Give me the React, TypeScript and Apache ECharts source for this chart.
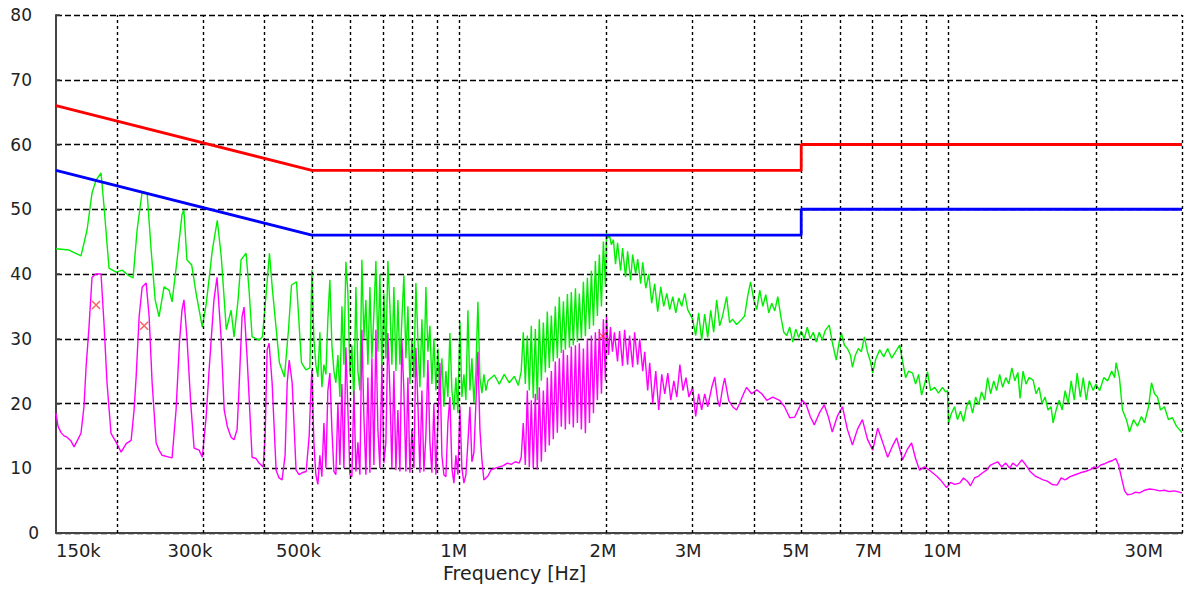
import React, { useEffect, useRef } from "react";
import * as echarts from "echarts";

// ---------- data ----------
const FREQ_GRID = [0.2, 0.3, 0.4, 0.5, 0.6, 0.7, 0.8, 0.9, 1, 2, 3, 4, 5, 6, 7, 8, 9, 10, 20, 30];
const X_LABEL_FREQS = [0.15, 0.3, 0.5, 1, 2, 3, 5, 7, 10, 30];
const X_LABELS = ["150k", "300k", "500k", "1M", "2M", "3M", "5M", "7M", "10M", "30M"];
const Y_TICKS = [0, 10, 20, 30, 40, 50, 60, 70, 80];
const X_TITLE = "Frequency [Hz]";

const QP_LIMIT = [[0.15, 66], [0.5, 56], [5, 56], [5, 60], [30, 60]];
const AV_LIMIT = [[0.15, 56], [0.5, 46], [5, 46], [5, 50], [30, 50]];
const MARKERS = [[0.1811, 35.2], [0.2271, 32.0], [1.963, 30.4]];

const PEAK = [
  [0.150, 43.9], [0.1595, 43.7], [0.1687, 42.8], [0.1736, 46.8], [0.1777, 52.5], [0.1811, 54.5], [0.1854, 55.6], [0.1880, 50.5],
  [0.1925, 40.9], [0.1991, 40.3], [0.2048, 40.6], [0.2116, 39.7], [0.2156, 39.4], [0.2197, 46.8], [0.2250, 52.7], [0.2303, 52.5],
  [0.2347, 43.7], [0.2392, 36.0], [0.2436, 33.4], [0.2494, 38.0], [0.2554, 37.5], [0.2590, 35.7], [0.2652, 42.2], [0.2713, 49.1],
  [0.2738, 49.9], [0.2777, 42.2], [0.2840, 41.4], [0.2903, 36.8], [0.2986, 31.8], [0.3043, 35.5], [0.3130, 43.7], [0.3204, 48.3],
  [0.3265, 42.6], [0.3343, 31.4], [0.3419, 34.4], [0.3467, 30.3], [0.3533, 36.0], [0.3583, 42.2], [0.3669, 43.2], [0.3721, 37.5],
  [0.3774, 30.3], [0.3907, 29.8], [0.3962, 30.3], [0.4038, 37.5], [0.4095, 43.2], [0.4154, 37.5], [0.4292, 26.3], [0.4395, 24.1],
  [0.4479, 31.4], [0.4543, 38.3], [0.4651, 38.8], [0.4761, 26.3], [0.4861, 25.2], [0.4953, 25.5],
  [0.5000, 40.6], [0.5047, 30.0], [0.5095, 26.0], [0.5143, 24.1], [0.5192, 31.0], [0.5241, 22.5], [0.5291, 26.0], [0.5341, 24.5],
  [0.5391, 33.0], [0.5442, 39.1], [0.5494, 29.0], [0.5546, 25.0], [0.5598, 23.2], [0.5651, 27.5], [0.5705, 21.0], [0.5759, 35.0],
  [0.5813, 26.0], [0.5868, 41.9], [0.5924, 37.0], [0.5980, 24.5], [0.6036, 29.0], [0.6093, 20.0], [0.6151, 38.0], [0.6209, 25.0],
  [0.6268, 22.0], [0.6327, 42.2], [0.6387, 30.0], [0.6447, 36.0], [0.6508, 26.0], [0.6570, 38.0], [0.6632, 27.0], [0.6695, 34.0],
  [0.6758, 42.0], [0.6822, 28.0], [0.6886, 40.0], [0.6951, 25.0], [0.7017, 37.0], [0.7083, 27.0], [0.7150, 42.0], [0.7218, 35.0],
  [0.7286, 26.0], [0.7355, 38.0], [0.7425, 25.0], [0.7495, 36.0], [0.7566, 26.0], [0.7637, 33.0], [0.7709, 39.8], [0.7782, 27.0],
  [0.7856, 35.0], [0.7930, 23.0], [0.8005, 30.0], [0.8081, 24.0], [0.8157, 38.6], [0.8234, 30.0], [0.8312, 22.5], [0.8391, 33.0],
  [0.8470, 24.0], [0.8550, 38.0], [0.8631, 28.0], [0.8713, 32.0], [0.8795, 23.0], [0.8878, 30.0], [0.8962, 22.0], [0.9047, 28.5],
  [0.9133, 20.5], [0.9219, 27.0], [0.9306, 19.5], [0.9394, 25.0], [0.9483, 21.0], [0.9573, 30.9], [0.9663, 22.0], [0.9755, 19.0],
  [0.9847, 24.0], [0.9940, 18.5], [1.0034, 32.6], [1.0129, 21.0], [1.0225, 24.5], [1.0322, 20.5], [1.0419, 34.4], [1.0518, 22.0],
  [1.0617, 27.0], [1.0718, 20.0], [1.0819, 25.0], [1.0921, 35.7], [1.1025, 24.0], [1.1129, 21.6], [1.1234, 24.5], [1.1340, 22.0],
  [1.1448, 23.5], [1.180, 24.4], [1.208, 23.0], [1.236, 24.5], [1.266, 23.2], [1.296, 24.2], [1.321, 22.8], [1.339, 25.0],
  [1.352, 31.0], [1.365, 23.0], [1.378, 30.5], [1.391, 22.0], [1.404, 32.0], [1.417, 20.8], [1.431, 31.5], [1.444, 20.5],
  [1.458, 33.0], [1.472, 23.5], [1.486, 32.5], [1.500, 24.8], [1.514, 34.2], [1.528, 25.5], [1.543, 33.6], [1.557, 26.5],
  [1.572, 35.0], [1.587, 27.0], [1.602, 36.5], [1.617, 27.8], [1.633, 35.8], [1.648, 28.3], [1.664, 36.9], [1.680, 28.6],
  [1.695, 37.2], [1.711, 29.0], [1.728, 37.8], [1.744, 29.5], [1.760, 37.0], [1.777, 30.0], [1.794, 38.8], [1.811, 30.4],
  [1.828, 39.4], [1.846, 31.5], [1.863, 40.5], [1.881, 32.0], [1.898, 42.0], [1.916, 33.5], [1.934, 43.0], [1.953, 35.0],
  [1.971, 45.0], [1.990, 38.0], [2.000, 46.3],
  [2.009, 45.5], [2.028, 46.0], [2.047, 44.5], [2.066, 45.3], [2.087, 41.5], [2.107, 44.8], [2.137, 40.5], [2.157, 44.0],
  [2.188, 39.5], [2.209, 43.5], [2.240, 39.0], [2.262, 43.0], [2.294, 40.0], [2.316, 42.3], [2.349, 38.5], [2.372, 41.8],
  [2.406, 37.8], [2.440, 40.0], [2.474, 35.5], [2.509, 38.5], [2.545, 34.2], [2.582, 38.0], [2.618, 35.0], [2.656, 37.0],
  [2.693, 34.5], [2.732, 36.5], [2.771, 34.0], [2.810, 36.3], [2.850, 35.0], [2.890, 37.0], [2.931, 34.5], [3.000, 33.0],
  [3.043, 30.5], [3.086, 34.0], [3.130, 29.8], [3.175, 33.8], [3.220, 30.2], [3.266, 34.4], [3.312, 31.0], [3.359, 36.0],
  [3.407, 32.0], [3.455, 33.6], [3.520, 36.5], [3.570, 32.5], [3.621, 33.0], [3.689, 32.2], [3.759, 32.8], [3.831, 33.5],
  [3.885, 36.5], [3.940, 38.8], [4.000, 36.0], [4.057, 34.5], [4.114, 37.5], [4.173, 35.0], [4.232, 36.8], [4.292, 34.0],
  [4.353, 35.5], [4.415, 34.3], [4.478, 36.5], [4.541, 33.5], [4.606, 31.0], [4.671, 30.5], [4.737, 31.8], [4.805, 29.5],
  [4.873, 31.5], [4.942, 30.2], [5.000, 31.2], [5.072, 30.0], [5.144, 31.8], [5.217, 30.0], [5.292, 31.0], [5.367, 29.5],
  [5.443, 31.0], [5.521, 29.8], [5.599, 31.3], [5.705, 32.1], [5.786, 29.5], [5.896, 26.7], [5.979, 29.5], [6.040, 30.9],
  [6.127, 29.0], [6.214, 28.5], [6.302, 27.5], [6.362, 25.6], [6.453, 27.5], [6.544, 28.5], [6.637, 28.0], [6.731, 30.3],
  [6.827, 28.0], [6.925, 26.5], [7.000, 24.7], [7.098, 26.8], [7.233, 28.3], [7.371, 27.2], [7.511, 28.5], [7.653, 27.0],
  [7.798, 28.0], [7.946, 29.0], [8.057, 26.5], [8.172, 24.0], [8.288, 25.0], [8.444, 24.7], [8.564, 23.0], [8.686, 24.5],
  [8.809, 21.3], [8.934, 23.0], [9.060, 24.9], [9.190, 22.0], [9.370, 22.5], [9.540, 21.6], [9.720, 22.5], [9.860, 21.8],
  [9.950, 22.0], [10.00, 17.0], [10.14, 18.5], [10.29, 19.5], [10.43, 17.5], [10.58, 18.8], [10.73, 17.2], [10.88, 19.5],
  [11.04, 20.5], [11.20, 18.5], [11.36, 21.0], [11.52, 19.8], [11.68, 21.8], [11.85, 20.5], [12.02, 24.0], [12.19, 21.5],
  [12.37, 23.5], [12.54, 22.0], [12.72, 24.5], [12.90, 22.5], [13.09, 24.0], [13.28, 23.0], [13.47, 25.5], [13.66, 23.5],
  [13.86, 24.8], [14.00, 20.8], [14.20, 25.0], [14.40, 23.0], [14.61, 24.0], [14.89, 23.6], [15.10, 21.5], [15.31, 22.5],
  [15.53, 20.0], [15.75, 21.0], [15.97, 19.0], [16.20, 19.5], [16.36, 17.0], [16.59, 19.0], [16.83, 20.5], [17.07, 19.0],
  [17.31, 22.0], [17.56, 20.0], [17.81, 23.5], [18.07, 20.5], [18.32, 24.7], [18.59, 21.0], [18.85, 24.0], [19.12, 20.5],
  [19.39, 23.5], [19.76, 22.0], [20.00, 23.0], [20.37, 22.0], [20.76, 24.0], [21.15, 23.5], [21.55, 25.0], [21.85, 24.0],
  [22.00, 26.3], [22.35, 24.0], [22.67, 19.0], [23.10, 17.5], [23.43, 15.6], [23.88, 17.5], [24.33, 16.5], [24.79, 18.0],
  [25.15, 17.0], [25.63, 19.5], [25.99, 23.2], [26.36, 21.5], [26.73, 21.0], [27.11, 19.0], [27.62, 19.5], [28.15, 17.5],
  [28.68, 17.8], [29.22, 16.5], [30.00, 15.5],
];

const AVERAGE = [
  [0.150, 18.5], [0.1514, 16.5], [0.1536, 15.5], [0.1558, 15.0], [0.1580, 14.8], [0.1610, 14.2], [0.1633, 13.3], [0.1664, 14.5],
  [0.1687, 15.4], [0.1711, 19.5], [0.1728, 25.6], [0.1752, 31.8], [0.1777, 39.5], [0.1811, 40.0], [0.1854, 40.0], [0.1880, 32.4],
  [0.1907, 23.2], [0.1943, 15.4], [0.1991, 14.0], [0.2038, 12.5], [0.2087, 13.8], [0.2136, 14.3], [0.2166, 19.0], [0.2187, 24.1],
  [0.2218, 33.4], [0.2250, 38.0], [0.2293, 38.6], [0.2325, 33.4], [0.2358, 23.2], [0.2403, 13.9], [0.2436, 12.8], [0.2471, 12.0],
  [0.2530, 11.8], [0.2590, 11.6], [0.2639, 19.0], [0.2681, 29.3], [0.2714, 34.5], [0.2739, 36.0], [0.2777, 30.3], [0.2828, 20.0],
  [0.2873, 13.1], [0.2941, 12.8], [0.2986, 11.7], [0.3040, 17.9], [0.3083, 25.2], [0.3154, 36.0], [0.3200, 39.5], [0.3261, 30.3],
  [0.3310, 19.0], [0.3360, 16.4], [0.3419, 14.8], [0.3467, 14.4], [0.3517, 16.0], [0.3550, 22.5], [0.3600, 33.4], [0.3634, 34.9],
  [0.3686, 27.2], [0.3774, 11.7], [0.3845, 11.5], [0.3901, 10.8], [0.3976, 10.2], [0.4013, 15.0], [0.4051, 28.3], [0.4089, 29.3],
  [0.4147, 23.2], [0.4226, 9.7], [0.4285, 8.5], [0.4346, 8.2], [0.4408, 12.0], [0.4452, 23.2], [0.4494, 26.7], [0.4557, 23.2],
  [0.4642, 9.7], [0.4708, 9.0], [0.4775, 9.3], [0.4867, 9.5], [0.4937, 15.0], [0.4984, 23.2],
  [0.5000, 25.2], [0.5047, 14.0], [0.5095, 9.0], [0.5143, 7.5], [0.5192, 12.0], [0.5241, 8.7], [0.5291, 17.0], [0.5341, 10.0],
  [0.5391, 22.0], [0.5442, 24.7], [0.5494, 16.0], [0.5546, 9.5], [0.5598, 9.0], [0.5651, 20.0], [0.5705, 10.5], [0.5759, 23.0],
  [0.5813, 10.0], [0.5868, 28.7], [0.5924, 19.0], [0.5980, 9.0], [0.6036, 8.7], [0.6093, 22.0], [0.6151, 9.5], [0.6209, 14.0],
  [0.6268, 9.0], [0.6327, 31.4], [0.6387, 18.0], [0.6447, 9.0], [0.6508, 24.0], [0.6570, 9.3], [0.6632, 27.0], [0.6695, 10.5],
  [0.6758, 31.4], [0.6822, 16.0], [0.6886, 10.0], [0.6951, 26.0], [0.7017, 10.8], [0.7083, 14.0], [0.7150, 30.9], [0.7218, 22.0],
  [0.7286, 10.0], [0.7355, 25.0], [0.7425, 9.7], [0.7495, 19.0], [0.7566, 9.5], [0.7637, 29.8], [0.7709, 22.0], [0.7782, 9.5],
  [0.7856, 24.0], [0.7930, 9.3], [0.8005, 16.0], [0.8081, 10.0], [0.8157, 28.6], [0.8234, 20.0], [0.8312, 9.3], [0.8391, 22.0],
  [0.8470, 9.5], [0.8550, 15.0], [0.8631, 26.7], [0.8713, 14.0], [0.8795, 9.3], [0.8878, 20.0], [0.8962, 9.0], [0.9047, 17.0],
  [0.9133, 26.3], [0.9219, 12.0], [0.9306, 9.0], [0.9394, 8.7], [0.9483, 17.0], [0.9573, 21.0], [0.9663, 10.0], [0.9755, 7.7],
  [0.9847, 12.0], [0.9940, 9.0], [1.0034, 19.5], [1.0129, 10.0], [1.0225, 7.7], [1.0322, 9.0], [1.0419, 14.0], [1.0518, 19.5],
  [1.0617, 11.0], [1.0718, 12.4], [1.0819, 20.0], [1.0921, 28.0], [1.1025, 16.0], [1.1129, 11.3], [1.1234, 8.2], [1.1340, 8.5],
  [1.1448, 8.8], [1.163, 9.8], [1.185, 10.0], [1.208, 10.2], [1.231, 10.4], [1.254, 10.8],
  [1.278, 10.6], [1.302, 11.0], [1.327, 10.8], [1.339, 11.7],
  [1.352, 17.0], [1.365, 10.5], [1.378, 22.0], [1.391, 10.2], [1.404, 20.5], [1.417, 10.0], [1.431, 21.5], [1.444, 9.8],
  [1.458, 22.5], [1.472, 11.0], [1.486, 22.0], [1.500, 12.5], [1.514, 24.0], [1.528, 13.5], [1.543, 25.0], [1.557, 14.5],
  [1.572, 26.5], [1.587, 15.5], [1.602, 27.0], [1.617, 16.4], [1.633, 28.3], [1.648, 16.0], [1.664, 27.5], [1.680, 16.8],
  [1.695, 28.8], [1.711, 16.3], [1.728, 29.0], [1.744, 17.0], [1.760, 29.3], [1.777, 16.0], [1.794, 28.5], [1.811, 15.4],
  [1.828, 30.0], [1.846, 17.0], [1.863, 30.5], [1.881, 18.5], [1.898, 31.0], [1.916, 20.5], [1.934, 31.5], [1.953, 21.5],
  [1.971, 33.0], [1.990, 23.5], [2.000, 33.4],
  [2.019, 27.5], [2.038, 31.8], [2.057, 28.0], [2.076, 31.0], [2.107, 26.5], [2.127, 31.2], [2.157, 25.8], [2.178, 31.4],
  [2.209, 26.0], [2.230, 30.5], [2.262, 25.6], [2.283, 31.0], [2.316, 26.0], [2.338, 30.0], [2.372, 25.0], [2.394, 28.0],
  [2.428, 22.0], [2.451, 26.3], [2.486, 20.0], [2.522, 25.0], [2.558, 19.0], [2.594, 24.5], [2.631, 21.5], [2.669, 24.7],
  [2.707, 20.5], [2.746, 23.5], [2.785, 21.0], [2.825, 26.0], [2.866, 22.0], [2.907, 24.0], [2.948, 21.0], [3.000, 22.5],
  [3.043, 18.0], [3.086, 21.5], [3.130, 19.0], [3.175, 21.5], [3.220, 19.5], [3.282, 22.5], [3.328, 24.1], [3.375, 20.5],
  [3.407, 19.5], [3.455, 22.5], [3.488, 23.9], [3.554, 20.5], [3.621, 19.5], [3.689, 19.0], [3.741, 20.0], [3.812, 21.5],
  [3.867, 22.5], [3.958, 21.5], [4.057, 22.1], [4.153, 21.5], [4.252, 20.5], [4.373, 21.0], [4.515, 20.5], [4.623, 19.5],
  [4.737, 17.8], [4.850, 17.9], [4.961, 19.5], [5.024, 20.5], [5.120, 19.8], [5.217, 18.0], [5.318, 16.7], [5.443, 18.5],
  [5.572, 19.8], [5.678, 18.0], [5.786, 15.6], [5.924, 18.0], [6.070, 19.5], [6.214, 16.0], [6.362, 13.6], [6.514, 16.0],
  [6.668, 17.5], [6.827, 14.5], [7.000, 12.8], [7.165, 16.2], [7.336, 14.0], [7.511, 11.7], [7.690, 13.5], [7.836, 14.7],
  [8.057, 11.3], [8.249, 13.0], [8.404, 13.9], [8.564, 11.5], [8.727, 9.7], [8.934, 10.2], [9.103, 9.8], [9.276, 9.3],
  [9.452, 8.8], [9.631, 8.2], [9.907, 7.0], [10.10, 7.8], [10.29, 7.5], [10.54, 7.7], [10.73, 8.5], [10.93, 8.0],
  [11.09, 7.3], [11.30, 8.5], [11.52, 8.8], [11.74, 9.3], [11.96, 9.7], [12.19, 10.5], [12.43, 10.8], [12.60, 11.0],
  [12.84, 10.2], [13.09, 10.8], [13.34, 10.0], [13.53, 10.8], [13.79, 10.3], [14.12, 11.3], [14.39, 10.5], [14.68, 9.5],
  [15.03, 8.8], [15.31, 8.5], [15.61, 8.2], [15.91, 8.0], [16.28, 7.5], [16.67, 7.4], [16.99, 8.5], [17.31, 8.2],
  [17.72, 8.7], [18.15, 9.0], [18.59, 9.3], [19.03, 9.5], [19.49, 9.8], [19.86, 10.2], [20.10, 10.0], [20.47, 10.5],
  [20.86, 10.7], [21.25, 11.0], [21.65, 11.2], [21.96, 11.5], [22.26, 10.5], [22.57, 8.5], [22.90, 6.5], [23.21, 5.9],
  [23.66, 6.0], [24.11, 6.3], [24.56, 6.2], [25.15, 6.6], [25.75, 6.8], [26.36, 6.7], [26.98, 6.5], [27.62, 6.6],
  [28.28, 6.4], [28.95, 6.5], [30.00, 6.2],
];

// ---------- layout (positions only) ----------
const X_LABEL_LAYOUT = [
  { dx: 0, align: "left" }, { dx: 9, align: "right" }, { dx: 9, align: "right" }, { dx: 8, align: "right" },
  { dx: 10, align: "right" }, { dx: 9, align: "right" }, { dx: 8, align: "right" }, { dx: 9, align: "right" },
  { dx: 13, align: "right" }, { dx: -19, align: "right" },
];
const FONT = '"DejaVu Sans", Verdana, sans-serif';
const TEXT_COLOR = "#222";

export default function App() {
  const ref = useRef<HTMLDivElement>(null);

  useEffect(() => {
    if (!ref.current) return;
    const chart = echarts.init(ref.current, null, { renderer: "svg" });
    const lineCommon = { type: "line", showSymbol: false, symbol: "none", silent: true };
    chart.setOption({
      animation: false,
      backgroundColor: "#ffffff",
      grid: { left: 56, right: 2, top: 15, bottom: 57, containLabel: false },
      xAxis: {
        type: "log",
        logBase: 10,
        min: 0.15,
        max: 30,
        axisLine: { show: true, onZero: false, lineStyle: { color: "#444", width: 2 } },
        axisTick: { show: false },
        axisLabel: { show: false },
        splitLine: { show: false },
      },
      yAxis: {
        type: "value",
        min: 0,
        max: 80,
        interval: 10,
        axisLine: { show: true, lineStyle: { color: "#444", width: 2 } },
        axisTick: { show: true, inside: true, length: 4, lineStyle: { color: "#444", width: 1.5 } },
        axisLabel: { show: false },
        splitLine: { show: true, lineStyle: { color: "#000", width: 1.4, type: [6, 3] } },
      },
      series: [
        {
          ...lineCommon,
          name: "grid",
          data: [[0.15, -10]],
          lineStyle: { opacity: 0 },
          z: 1,
          markLine: {
            silent: true,
            symbol: ["none", "none"],
            label: { show: false },
            lineStyle: { color: "#000", width: 1.4, type: [3, 3] },
            data: FREQ_GRID.map((f) => ({ xAxis: f })),
          },
        },
        { ...lineCommon, name: "Peak", data: PEAK, lineStyle: { color: "#00ee00", width: 1.4 }, z: 3 },
        { ...lineCommon, name: "Average", data: AVERAGE, lineStyle: { color: "#ff00ff", width: 1.4 }, z: 4 },
        { ...lineCommon, name: "QP limit", data: QP_LIMIT, lineStyle: { color: "#ff0000", width: 2.8 }, z: 5 },
        { ...lineCommon, name: "AV limit", data: AV_LIMIT, lineStyle: { color: "#0000ff", width: 2.8 }, z: 5 },
        {
          type: "scatter",
          name: "markers",
          data: MARKERS,
          symbol: "path://M0 0L10 10M10 0L0 10",
          symbolSize: 8,
          itemStyle: { color: "none", borderColor: "#ff3030", borderWidth: 1.3 },
          silent: true,
          z: 6,
        },
      ],
    });

    const graphics: any[] = [];
    X_LABEL_FREQS.forEach((f, i) => {
      const px = chart.convertToPixel({ xAxisIndex: 0 }, f) as number;
      const lay = X_LABEL_LAYOUT[i];
      graphics.push({
        type: "text",
        x: px + lay.dx,
        y: 550,
        silent: true,
        style: {
          text: X_LABELS[i],
          fill: TEXT_COLOR,
          font: `18px ${FONT}`,
          textAlign: lay.align,
          textVerticalAlign: "middle",
        },
      });
    });
    Y_TICKS.forEach((v) => {
      const py = chart.convertToPixel({ yAxisIndex: 0 }, v) as number;
      graphics.push({
        type: "text",
        x: v === 0 ? 39 : 32,
        y: py,
        silent: true,
        style: {
          text: String(v),
          fill: TEXT_COLOR,
          font: `17px ${FONT}`,
          textAlign: "right",
          textVerticalAlign: "middle",
        },
      });
    });
    graphics.push({
      type: "text",
      x: 443,
      y: 573,
      silent: true,
      style: {
        text: X_TITLE,
        fill: TEXT_COLOR,
        font: `19px ${FONT}`,
        textAlign: "left",
        textVerticalAlign: "middle",
      },
    });
    chart.setOption({ graphic: graphics });

    return () => chart.dispose();
  }, []);

  return (
    <div
      ref={ref}
      style={{ position: "fixed", left: 0, top: 0, width: 1184, height: 590, background: "#fff" }}
    />
  );
}
